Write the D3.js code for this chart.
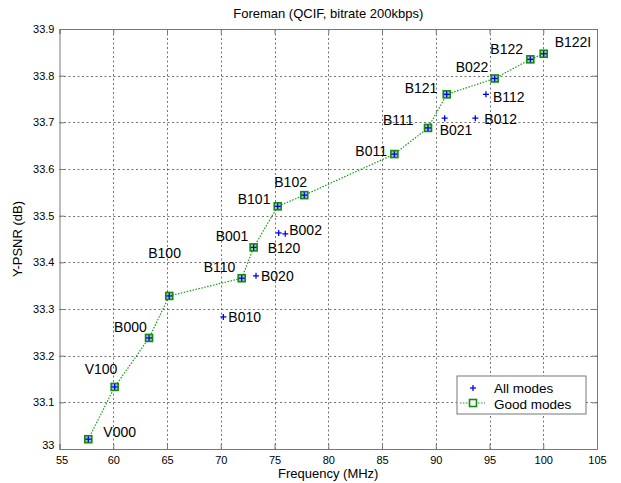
<!DOCTYPE html>
<html>
<head>
<meta charset="utf-8">
<script src="https://d3js.org/d3.v7.min.js"></script>
<style>
  body { margin: 0; background: #fff; }
  svg { display: block; font-family: "Liberation Sans", Arial, sans-serif; }
</style>
</head>
<body>
<div id="chart"></div>
<script>
// "Good modes" (connected by the dotted line)
var goodNames = ["V000", "V100", "B000", "B100", "B110", "B001", "B101", "B102",
                 "B011", "B111", "B121", "B022", "B122", "B122I"];
var goodFreq = [57.68, 60.13, 63.33, 65.21, 71.95, 73.06, 75.30, 77.77,
                86.15, 89.28, 91.02, 95.48, 98.80, 100.04];
var goodPsnr = [33.021, 33.133, 33.238, 33.328, 33.366, 33.432, 33.520, 33.544,
                33.632, 33.688, 33.760, 33.794, 33.835, 33.847];

// remaining modes (only "+")
var otherNames = ["B010", "B020", "B120", "B002", "B021", "B012", "B112"];
var otherFreq = [70.24, 73.28, 75.39, 76.00, 90.83, 93.68, 94.67];
var otherPsnr = [33.283, 33.371, 33.463, 33.461, 33.709, 33.709, 33.760];

var xTicks = [55, 60, 65, 70, 75, 80, 85, 90, 95, 100, 105];
var yTicks = [33, 33.1, 33.2, 33.3, 33.4, 33.5, 33.6, 33.7, 33.8, 33.9];

// text placement of each point label (pixels from the point to the text start/baseline)
var labelOffset = {
  V000: [15, -2], V100: [-30, -13], B000: [-35, -6], B100: [-21, -38],
  B110: [-38, -6], B001: [-38, -6], B101: [-40, -2], B102: [-30, -8],
  B011: [-39, 2], B111: [-45, -3], B121: [-42, -1], B022: [-39, -6],
  B122: [-40, -5], B122I: [11, -7],
  B010: [5, 5], B020: [5, 5], B120: [-11, 20], B002: [4, 1],
  B021: [-5, 17], B012: [9, 6], B112: [7, 8]
};

var width = 621, height = 483;
var pLeft = 59.5, pRight = 597, pTop = 29, pBottom = 449;

var svg = d3.select("#chart").append("svg")
  .attr("width", width).attr("height", height);

svg.append("rect").attr("width", width).attr("height", height).attr("fill", "#fff");

var x = d3.scaleLinear().domain([55, 105]).range([pLeft, pRight]);
var y = d3.scaleLinear().domain([33, 33.9]).range([pBottom, pTop]);

// grid
var grid = svg.append("g").attr("stroke", "#444").attr("stroke-width", 1)
  .attr("stroke-dasharray", "2,2.5");
grid.selectAll(".gx").data(xTicks.slice(1, -1)).enter().append("line")
  .attr("x1", d => Math.round(x(d)) + 0.5).attr("x2", d => Math.round(x(d)) + 0.5)
  .attr("y1", pTop).attr("y2", pBottom).attr("stroke-opacity", 0.75);
grid.selectAll(".gy").data(yTicks.slice(1, -1)).enter().append("line")
  .attr("y1", d => Math.round(y(d)) + 0.5).attr("y2", d => Math.round(y(d)) + 0.5)
  .attr("x1", pLeft).attr("x2", pRight).attr("stroke-opacity", 0.75);

// axes, ticks pointing inward
var fmt = d => d === 33 ? "33" : d3.format(".1f")(d);
var xAxis = svg.append("g").attr("transform", "translate(0," + pBottom + ")")
  .call(d3.axisBottom(x).tickValues(xTicks).tickSize(-5).tickPadding(7));
var xTop = svg.append("g").attr("transform", "translate(0," + pTop + ")")
  .call(d3.axisTop(x).tickValues(xTicks).tickSize(-5).tickFormat(""));
var yAxis = svg.append("g").attr("transform", "translate(" + pLeft + ",0)")
  .call(d3.axisLeft(y).tickValues(yTicks).tickSize(-5).tickPadding(5).tickFormat(fmt));
var yRight = svg.append("g").attr("transform", "translate(" + pRight + ",0)")
  .call(d3.axisRight(y).tickValues(yTicks).tickSize(-5).tickFormat(""));

[xAxis, xTop, yAxis, yRight].forEach(function (g) {
  g.select(".domain").attr("stroke", "#777");
  g.selectAll(".tick line").attr("stroke", "#777");
  g.selectAll("text").attr("font-size", 11).attr("fill", "#000")
    .attr("font-family", "Liberation Sans, Arial, sans-serif");
});
yAxis.selectAll(".tick").filter(d => d === 33).select("text").attr("dy", "-0.05em");
xAxis.selectAll(".tick").filter(d => d === 55).select("text").attr("dx", "2");

// dotted line through good modes
var line = d3.line().x(d => x(d[0])).y(d => y(d[1]));
var goodPts = goodFreq.map((f, i) => [f, goodPsnr[i], goodNames[i]]);
var otherPts = otherFreq.map((f, i) => [f, otherPsnr[i], otherNames[i]]);

svg.append("path").datum(goodPts).attr("d", line)
  .attr("fill", "none").attr("stroke", "#10a010").attr("stroke-width", 1.2)
  .attr("stroke-dasharray", "1.5,1.5");

// square markers
svg.selectAll(".sq").data(goodPts).enter().append("rect")
  .attr("x", d => x(d[0]) - 3.5).attr("y", d => y(d[1]) - 3.5)
  .attr("width", 7).attr("height", 7)
  .attr("fill", "#9fd09f").attr("stroke", "#138a13").attr("stroke-width", 1.6);

// "+" markers for every mode
var allPts = goodPts.concat(otherPts);
var plus = svg.selectAll(".pl").data(allPts).enter().append("g")
  .attr("transform", d => "translate(" + x(d[0]) + "," + y(d[1]) + ")");
plus.append("line").attr("x1", -3).attr("x2", 3).attr("stroke", "#0000ff").attr("stroke-width", 1.3);
plus.append("line").attr("y1", -3).attr("y2", 3).attr("stroke", "#0000ff").attr("stroke-width", 1.3);

// point labels
svg.selectAll(".lab").data(allPts).enter().append("text")
  .attr("x", d => x(d[0]) + labelOffset[d[2]][0])
  .attr("y", d => y(d[1]) + labelOffset[d[2]][1])
  .attr("font-size", 14).attr("fill", "#000")
  .text(d => d[2]);

// title and axis titles
svg.append("text").attr("x", (pLeft + pRight) / 2).attr("y", 18)
  .attr("text-anchor", "middle").attr("font-size", 13).text("Foreman (QCIF, bitrate 200kbps)");
svg.append("text").attr("x", (pLeft + pRight) / 2).attr("y", 478)
  .attr("text-anchor", "middle").attr("font-size", 13).text("Frequency (MHz)");
svg.append("text").attr("transform", "translate(22," + (pTop + pBottom) / 2 + ") rotate(-90)")
  .attr("text-anchor", "middle").attr("font-size", 13).text("Y-PSNR (dB)");

// legend
var lg = svg.append("g").attr("transform", "translate(457,376)");
lg.append("rect").attr("width", 129).attr("height", 38)
  .attr("fill", "#fff").attr("stroke", "#777");
var r1 = lg.append("g").attr("transform", "translate(16,12)");
r1.append("line").attr("x1", -3).attr("x2", 3).attr("stroke", "#0000ff").attr("stroke-width", 1.3);
r1.append("line").attr("y1", -3).attr("y2", 3).attr("stroke", "#0000ff").attr("stroke-width", 1.3);
lg.append("text").attr("x", 37).attr("y", 16.5).attr("font-size", 13.5).text("All modes");
lg.append("line").attr("x1", 3).attr("x2", 28).attr("y1", 27).attr("y2", 27)
  .attr("stroke", "#10a010").attr("stroke-width", 1.2).attr("stroke-dasharray", "1.5,1.5");
lg.append("rect").attr("x", 12.5).attr("y", 23.5).attr("width", 7).attr("height", 7)
  .attr("fill", "#fff").attr("stroke", "#138a13").attr("stroke-width", 1.6);
lg.append("text").attr("x", 37).attr("y", 32.5).attr("font-size", 13.5).text("Good modes");
</script>
</body>
</html>
